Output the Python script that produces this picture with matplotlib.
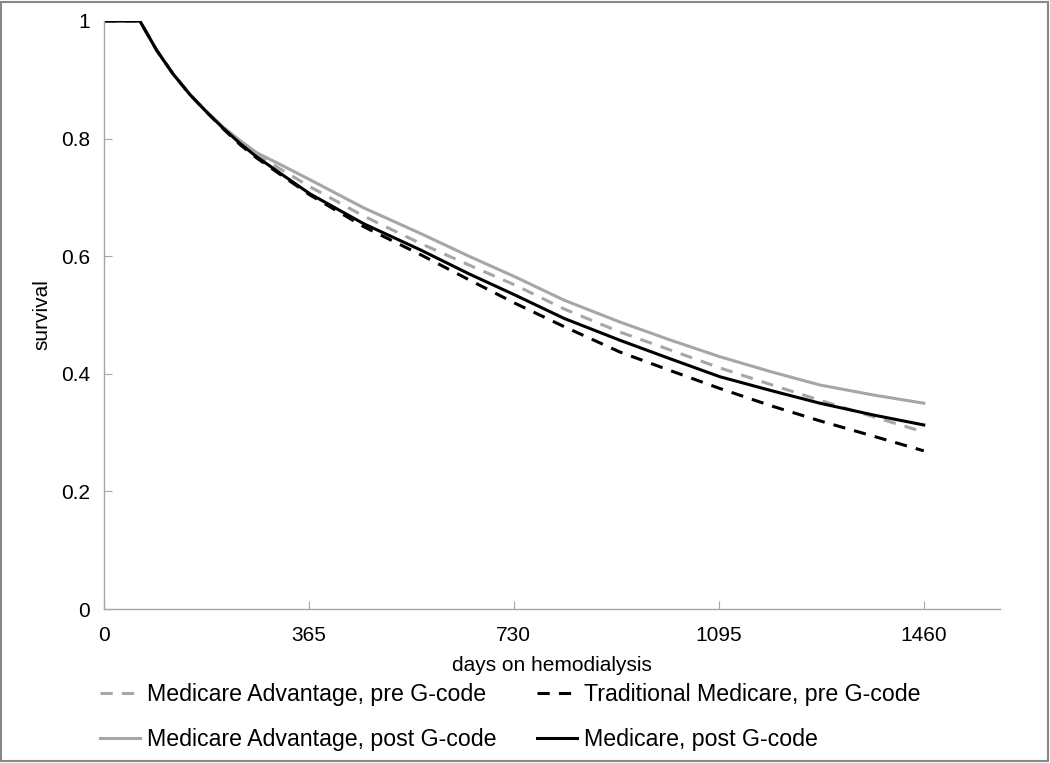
"""
Survival on hemodialysis by Medicare type, pre/post G-code
"""

import numpy as np
from matplotlib import pyplot as plt
from matplotlib.patches import Rectangle

plt.rcParams["font.family"] = ["Liberation Sans", "DejaVu Sans"]

GREY = "#a6a6a6"

# Values
days = [0, 64, 94, 123, 153, 183, 212, 242, 272, 320, 367, 463, 563, 650,
        732, 820, 919, 1010, 1097, 1190, 1275, 1370, 1460]
ma_pre = [1, 1, 0.950, 0.910, 0.875, 0.845, 0.818, 0.793, 0.772, 0.745, 0.718, 0.668,
          0.622, 0.585, 0.551, 0.510, 0.471, 0.440, 0.410, 0.381, 0.355, 0.327, 0.301]
tm_pre = [1, 1, 0.950, 0.910, 0.875, 0.845, 0.817, 0.790, 0.767, 0.735, 0.704, 0.650,
          0.603, 0.560, 0.520, 0.480, 0.437, 0.405, 0.375, 0.345, 0.320, 0.294, 0.269]
ma_post = [1, 1, 0.950, 0.910, 0.875, 0.846, 0.820, 0.797, 0.776, 0.753, 0.730, 0.682,
           0.639, 0.600, 0.565, 0.525, 0.488, 0.457, 0.429, 0.403, 0.381, 0.364, 0.350]
m_post = [1, 1, 0.950, 0.910, 0.875, 0.845, 0.818, 0.792, 0.769, 0.737, 0.706, 0.655,
          0.611, 0.570, 0.534, 0.494, 0.457, 0.425, 0.395, 0.371, 0.350, 0.330, 0.313]

xticks = [0, 365, 730, 1095, 1460]
yticks = [0, 0.2, 0.4, 0.6, 0.8, 1]
ytick_labels = ["0", "0.2", "0.4", "0.6", "0.8", "1"]

fig = plt.figure(figsize=(10.5, 7.63), dpi=100)
ax = fig.add_axes([0.099, 0.2018, 0.853, 0.7707])

lw = 2.2
l_ma_pre, = ax.plot(days, ma_pre, color=GREY, lw=lw, dashes=(4, 3),
                    label="Medicare Advantage, pre G-code")
l_tm_pre, = ax.plot(days, tm_pre, color="black", lw=lw, dashes=(4, 3),
                    label="Traditional Medicare, pre G-code")
l_ma_post, = ax.plot(days, ma_post, color=GREY, lw=lw, label="Medicare Advantage, post G-code")
l_m_post, = ax.plot(days, m_post, color="black", lw=lw, label="Medicare, post G-code")

ax.set_xlim(0, 1595)
ax.set_ylim(0, 1)
ax.set_xticks(xticks)
ax.set_yticks(yticks)
ax.set_yticklabels(ytick_labels)
for side in ["top", "right"]:
    ax.spines[side].set_visible(False)
for side in ["left", "bottom"]:
    ax.spines[side].set_color(GREY)
    ax.spines[side].set_linewidth(1)
ax.tick_params(direction="in", length=6, color=GREY, labelsize=15)
ax.tick_params(axis="x", pad=12)
ax.tick_params(axis="y", pad=10)

ax.set_xlabel("days on hemodialysis", fontsize=15, labelpad=8)
ax.set_ylabel("survival", fontsize=15, labelpad=7)

# legend fills column by column
handles = [l_ma_pre, l_ma_post, l_tm_pre, l_m_post]
fig.legend(handles, [h.get_label() for h in handles], ncol=2, loc="upper left",
           bbox_to_anchor=(0.095, 0.105), frameon=False, fontsize=16.7,
           handlelength=1.75, handletextpad=0.3, columnspacing=1.72,
           labelspacing=0.95, borderpad=0, borderaxespad=0)

# grey border round the whole figure
fig.patches.append(Rectangle((0.001, 0.002), 0.997, 0.995, transform=fig.transFigure,
                             fill=False, edgecolor="#888888", lw=1.5))

fig.savefig("out.png")
